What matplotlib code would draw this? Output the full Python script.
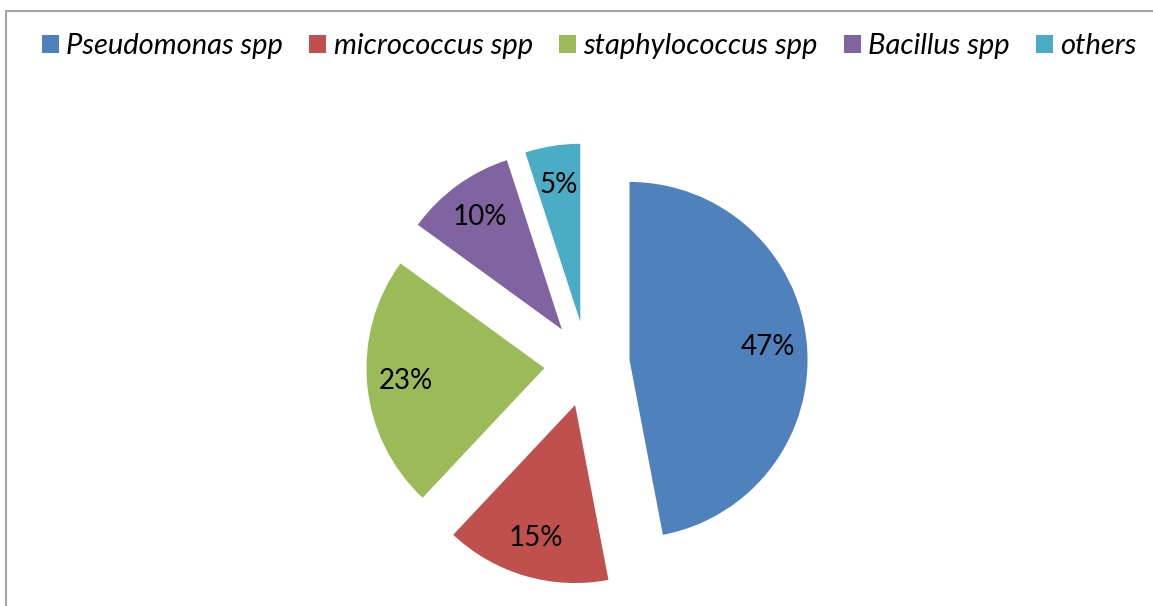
import matplotlib.pyplot as plt
from matplotlib.patches import Patch, Rectangle

labels = ['Pseudomonas spp', 'micrococcus spp', 'staphylococcus spp', 'Bacillus spp', 'others']
shares = [47, 15, 23, 10, 5]
colors = ['#4F81BD', '#C0504D', '#9BBB59', '#8064A2', '#4BACC6']

W, H = 1153, 606
cx, cy, r = 587, 364, 178   # pie centre and radius in pixels (from top)

plt.rcParams['font.family'] = ['Lato', 'DejaVu Sans']

fig = plt.figure(figsize=(W / 100, H / 100), dpi=100)
ax = fig.add_axes([0, 0, 1, 1])

wedges, texts, autotexts = ax.pie(
    shares, colors=colors, startangle=90, counterclock=False,
    explode=[0.24] * len(shares), autopct='%d%%', pctdistance=0.78,
    textprops={'fontsize': 20, 'color': 'black'})

ax.set_xlim(-cx / r, (W - cx) / r)
ax.set_ylim(-(H - cy) / r, cy / r)
ax.set_aspect('auto')
ax.axis('off')

# chart frame (clipped on right and bottom like the original)
fig.patches.append(Rectangle((6 / W, -0.1), 1.2, 1.1 - 11 / H,
                             transform=fig.transFigure, fill=False,
                             edgecolor='#A6A6A6', linewidth=1.5))

handles = [Patch(facecolor=c, edgecolor='none') for c in colors]
fig.legend(handles, labels, loc='center left', bbox_to_anchor=(42 / W, 1 - 46 / H),
           ncol=5, frameon=False, borderpad=0, borderaxespad=0,
           handlelength=0.58, handleheight=0.58,
           handletextpad=0.25, columnspacing=0.9,
           prop={'style': 'italic', 'size': 21})

fig.savefig('out.png', dpi=100)
